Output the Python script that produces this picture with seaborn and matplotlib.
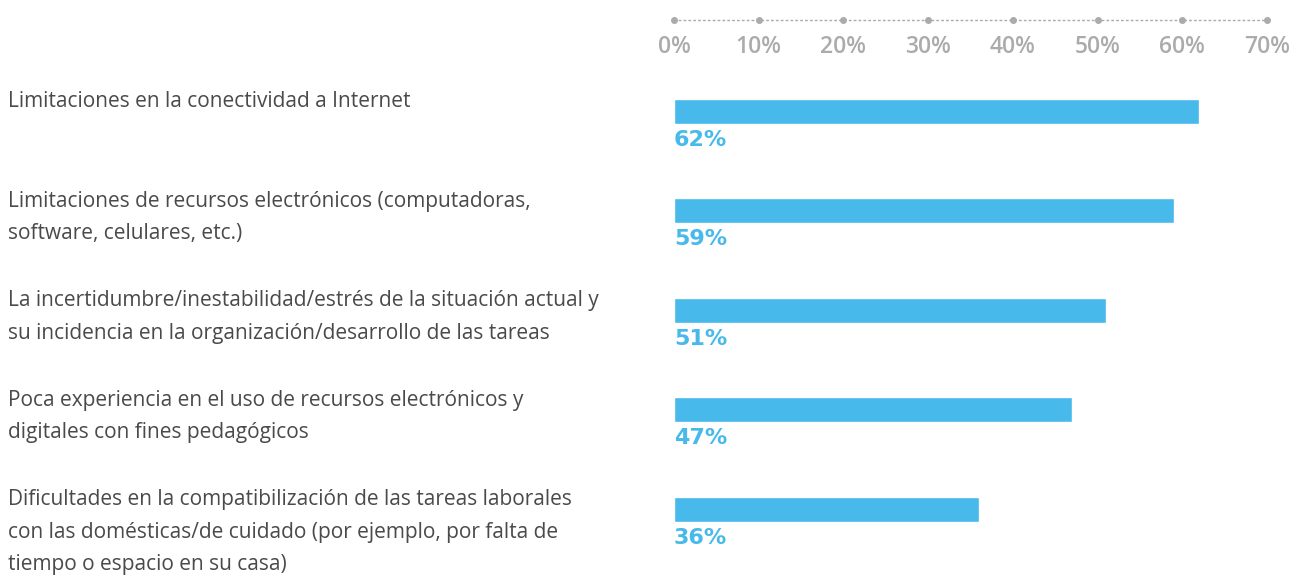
import matplotlib
matplotlib.use("Agg")
import matplotlib.pyplot as plt
import matplotlib.transforms as mtransforms
import pandas as pd
import seaborn as sns

# ---- data ----
categorias = [
    "Limitaciones en la conectividad a Internet",
    "Limitaciones de recursos electrónicos (computadoras,\nsoftware, celulares, etc.)",
    "La incertidumbre/inestabilidad/estrés de la situación actual y\nsu incidencia en la organización/desarrollo de las tareas",
    "Poca experiencia en el uso de recursos electrónicos y\ndigitales con fines pedagógicos",
    "Dificultades en la compatibilización de las tareas laborales\ncon las domésticas/de cuidado (por ejemplo, por falta de\ntiempo o espacio en su casa)",
]
porcentajes = [62, 59, 51, 47, 36]
ticks = [0, 10, 20, 30, 40, 50, 60, 70]
tick_labels = ["0%", "10%", "20%", "30%", "40%", "50%", "60%", "70%"]

df = pd.DataFrame({"cat": categorias, "pct": porcentajes})

sns.set_theme(style="white")
plt.rcParams["font.family"] = ["Open Sans", "DejaVu Sans"]

AZUL = "#47b9ea"
GRIS = "#ababab"

fig = plt.figure(figsize=(12.99, 5.75), dpi=100)
W, H = 1299, 575
ax = fig.add_axes([674 / W, 0, (1267 - 674) / W, 1 - 20 / H])

sns.barplot(data=df, x="pct", y="cat", orient="h", color=AZUL,
            width=0.25, saturation=1, ax=ax)

ax.set_xlim(0, 70)
ax.set_ylim(4.66, -0.915)
ax.set_xlabel("")
ax.set_ylabel("")
ax.set_yticks([])

for s in ["left", "right", "bottom"]:
    ax.spines[s].set_visible(False)
ax.spines["top"].set_visible(True)
ax.spines["top"].set_color(GRIS)
ax.spines["top"].set_linestyle((0, (1, 2.5)))
ax.spines["top"].set_linewidth(1.0)

# puntos sobre la linea del eje
ax.scatter(ticks, [1] * len(ticks), s=16, color=GRIS, zorder=5,
           clip_on=False, transform=ax.get_xaxis_transform())

ax.xaxis.tick_top()
ax.set_xticks(ticks)
ax.set_xticklabels(tick_labels)
ax.tick_params(axis="x", length=0, pad=-28, labelsize=16.5, labelcolor=GRIS,
               labelbottom=False, labeltop=True)
for lbl in ax.get_xticklabels():
    lbl.set_verticalalignment("bottom")
    lbl.set_fontweight("semibold")

# etiquetas de valor bajo cada barra
for i, v in enumerate(porcentajes):
    ax.text(0.0, i + 0.185, f"{v}%", color=AZUL, fontsize=16,
            fontweight="bold", family="DejaVu Sans", va="top", ha="left")

# categorias a la izquierda
trans = mtransforms.blended_transform_factory(fig.transFigure, ax.transData)
for i, c in enumerate(categorias):
    ax.text(8 / W, i - 0.2, c, transform=trans, ha="left", va="top",
            fontsize=15, color="#4a4a4a", linespacing=1.72, clip_on=False)

fig.savefig("out.png", dpi=100, facecolor="white")
